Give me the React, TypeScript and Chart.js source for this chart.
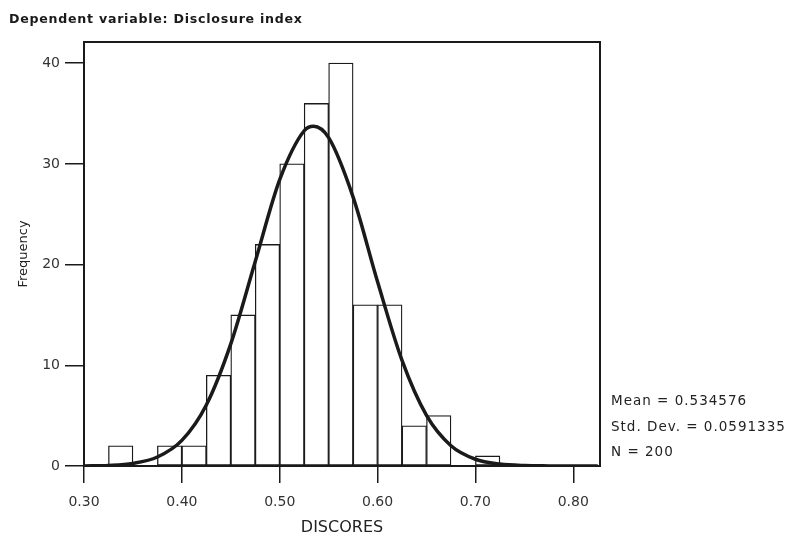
import React, { useEffect, useRef } from "react";
import { Chart, registerables } from "chart.js";

Chart.register(...registerables);

const binStarts = [0.3, 0.325, 0.35, 0.375, 0.4, 0.425, 0.45, 0.475, 0.5, 0.525, 0.55, 0.575, 0.6, 0.625, 0.65, 0.675, 0.7];
const binCounts = [0, 2, 0, 2, 2, 9, 15, 22, 30, 36, 40, 16, 16, 4, 5, 0, 1];
const binWidth = 0.025;

const curveX = [0.3, 0.325, 0.35, 0.375, 0.4, 0.425, 0.45, 0.475, 0.5, 0.525, 0.5346, 0.55, 0.575, 0.6, 0.625, 0.65, 0.675, 0.7, 0.725, 0.75, 0.775, 0.8, 0.825];
const curveY = [0.01, 0.06, 0.26, 0.89, 2.54, 6.06, 12.13, 20.31, 28.43, 33.29, 33.73, 32.6, 26.7, 18.29, 10.48, 5.02, 2.01, 0.67, 0.19, 0.04, 0.01, 0.0, 0.0];

const xTicks = [0.3, 0.4, 0.5, 0.6, 0.7, 0.8];
const yTicks = [0, 10, 20, 30, 40];

const titleText = "Dependent variable: Disclosure index";
const statsLines = ["Mean = 0.534576", "Std. Dev. = 0.0591335", "N = 200"];
const xTitle = "DISCORES";
const yTitle = "Frequency";

const FONT = "'DejaVu Sans', Verdana, sans-serif";

export default function App() {
  const ref = useRef<HTMLCanvasElement | null>(null);

  useEffect(() => {
    if (!ref.current) return;
    const framePlugin = {
      id: "frameAndText",
      afterDraw(chart: any) {
        const { ctx, chartArea } = chart;
        ctx.save();
        ctx.strokeStyle = "#1a1a1a";
        ctx.lineWidth = 2;
        ctx.strokeRect(chartArea.left, chartArea.top, chartArea.right - chartArea.left, chartArea.bottom - chartArea.top);
        ctx.fillStyle = "#1a1a1a";
        ctx.textBaseline = "middle";
        ctx.textAlign = "left";
        ctx.font = `bold 12.6px ${FONT}`;
        (ctx as any).letterSpacing = "0.75px";
        ctx.fillText(titleText, 9, 20);
        ctx.font = `13.5px ${FONT}`;
        (ctx as any).letterSpacing = "1px";
        ctx.fillStyle = "#222";
        const ys = [401, 427, 452];
        statsLines.forEach((t, i) => ctx.fillText(t, 611, ys[i]));
        (ctx as any).letterSpacing = "0px";
        ctx.restore();
      },
    };

    const chart = new Chart(ref.current, {
      type: "bar",
      data: {
        datasets: [
          {
            type: "line",
            label: "Normal",
            data: curveX.map((x, i) => ({ x, y: curveY[i] })),
            borderColor: "#1a1a1a",
            borderWidth: 3.5,
            pointRadius: 0,
            cubicInterpolationMode: "monotone",
            fill: false,
            order: 0,
          } as any,
          {
            type: "bar",
            label: "Frequency",
            data: binStarts.map((s, i) => ({ x: s + binWidth / 2, y: binCounts[i] })),
            backgroundColor: "#ffffff",
            borderColor: "#1a1a1a",
            borderWidth: 1.3,
            borderSkipped: false,
            barPercentage: 1,
            categoryPercentage: 1,
            order: 1,
          } as any,
        ],
      },
      options: {
        responsive: false,
        animation: false,
        layout: { padding: { left: 0, right: 188, top: 42, bottom: 0 } },
        plugins: { legend: { display: false }, tooltip: { enabled: false }, title: { display: false } },
        scales: {
          x: {
            type: "linear",
            min: 0.3,
            max: 0.8273,
            offset: false,
            grid: { display: true, drawOnChartArea: false, drawTicks: true, tickLength: 17, color: "#1a1a1a", lineWidth: 1.5, offset: false },
            border: { display: true, color: "#1a1a1a", width: 2 },
            afterBuildTicks: (scale: any) => {
              scale.ticks = xTicks.map((v) => ({ value: v }));
            },
            afterFit: (scale: any) => {
              scale.height = 72;
            },
            ticks: {
              autoSkip: false,
              maxRotation: 0,
              padding: 11,
              color: "#333",
              font: { family: FONT, size: 14 },
              callback: (v: any) => Number(v).toFixed(2),
            },
            title: { display: true, text: xTitle, color: "#222", font: { family: FONT, size: 16 }, padding: { top: 0, bottom: 1 } },
          },
          y: {
            type: "linear",
            min: 0,
            max: 42.1,
            grid: { display: true, drawOnChartArea: false, drawTicks: true, tickLength: 19, color: "#1a1a1a", lineWidth: 1.5 },
            border: { display: true, color: "#1a1a1a", width: 2 },
            afterBuildTicks: (scale: any) => {
              scale.ticks = yTicks.map((v) => ({ value: v }));
            },
            afterFit: (scale: any) => {
              scale.width = 84;
            },
            ticks: {
              padding: 5,
              color: "#333",
              font: { family: FONT, size: 14 },
              callback: (v: any) => String(v),
            },
            title: { display: true, text: yTitle, color: "#222", font: { family: FONT, size: 13 }, padding: { top: 16, bottom: 0 } },
          },
        },
      },
      plugins: [framePlugin],
    } as any);

    return () => chart.destroy();
  }, []);

  return (
    <div style={{ position: "absolute", left: 0, top: 0, width: 788, height: 538, background: "#fff" }}>
      <canvas ref={ref} width={788} height={538} style={{ width: 788, height: 538, display: "block" }} />
    </div>
  );
}
